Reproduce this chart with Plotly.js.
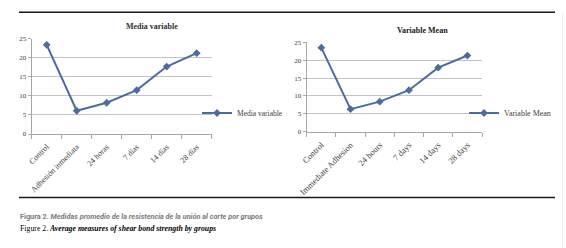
<!DOCTYPE html>
<html>
<head>
<meta charset="utf-8">
<script src="https://cdn.plot.ly/plotly-3.0.1.min.js"></script>
<style>
html,body{margin:0;padding:0;background:#fff;}
#chart{width:566px;height:248px;}
</style>
</head>
<body>
<div id="chart"></div>
<script>
// ---- data ----
var categoriesEs = ["Control", "Adhesión inmediata", "24 horas", "7 días", "14 días", "28 días"];
var categoriesEn = ["Control", "Immediate Adhesion", "24 hours", "7 days", "14 days", "28 days"];
var mediaVariable = [23.4, 6.1, 8.2, 11.5, 17.7, 21.2];
var variableMean = [23.5, 6.3, 8.4, 11.6, 17.9, 21.3];
var yTicks = [0, 5, 10, 15, 20, 25];
var titleEs = "Media variable";
var titleEn = "Variable Mean";
var captionEs = "Figura 2. <i>Medidas promedio de la resistencia de la unión al corte por grupos</i>";
var captionEn = "Figure 2. <b><i>Average measures of shear bond strength by groups</i></b>";

// ---- layout helpers (pixel -> paper) ----
var W = 566, H = 248;
function px(x) { return x / W; }
function py(y) { return 1 - y / H; }

var lineColor = "#4d6b9f";
var serif = "Liberation Serif, Times New Roman, serif";
var axisGray = "#a6a6a6";
var gridGray = "#c4c4c4";

var traces = [
  {
    x: categoriesEs, y: mediaVariable, name: titleEs,
    type: "scatter", mode: "lines+markers",
    xaxis: "x", yaxis: "y", legend: "legend",
    line: {color: lineColor, width: 2},
    marker: {symbol: "diamond", size: 6, color: lineColor}
  },
  {
    x: categoriesEn, y: variableMean, name: titleEn,
    type: "scatter", mode: "lines+markers",
    xaxis: "x2", yaxis: "y2", legend: "legend2",
    line: {color: lineColor, width: 2},
    marker: {symbol: "diamond", size: 6, color: lineColor}
  }
];

function xAxis(domain, anchor, fontSize) {
  return {
    domain: domain, anchor: anchor, type: "category",
    range: [-0.5, 5.5], showgrid: false, zeroline: false,
    showline: true, linecolor: axisGray, linewidth: 1,
    ticks: "outside", tickson: "boundaries", ticklen: 4, tickcolor: axisGray,
    ticklabelstandoff: 4,
    tickangle: -45, tickfont: {family: serif, size: fontSize, color: "#404040"},
    fixedrange: true
  };
}
function yAxis(domain, anchor) {
  return {
    domain: domain, anchor: anchor, range: [0, 25],
    tickvals: yTicks, ticktext: yTicks.map(String),
    showgrid: true, gridcolor: gridGray, gridwidth: 1, zeroline: false,
    showline: true, linecolor: axisGray, linewidth: 1,
    ticks: "outside", ticklen: 3, tickcolor: axisGray,
    tickfont: {family: serif, size: 7, color: "#404040"},
    fixedrange: true
  };
}

var layout = {
  width: W, height: H,
  margin: {l: 0, r: 0, t: 0, b: 0},
  paper_bgcolor: "#ffffff", plot_bgcolor: "rgba(0,0,0,0)",
  showlegend: true,
  xaxis: xAxis([px(31.7), px(211.7)], "y", 8),
  yaxis: yAxis([py(134), py(38.7)], "x"),
  xaxis2: xAxis([px(306.7), px(482)], "y2", 8.5),
  yaxis2: yAxis([py(131.7), py(42.3)], "x2"),
  legend: {
    x: px(197), y: py(113), xanchor: "left", yanchor: "middle",
    bgcolor: "rgba(0,0,0,0)", borderwidth: 0,
    font: {family: serif, size: 7.5, color: "#404040"}
  },
  legend2: {
    x: px(464), y: py(113), xanchor: "left", yanchor: "middle",
    bgcolor: "rgba(0,0,0,0)", borderwidth: 0,
    font: {family: serif, size: 8, color: "#404040"}
  },
  annotations: [
    {text: "<b>" + titleEs + "</b>", xref: "paper", yref: "paper",
     x: px(152), y: py(26.5), xanchor: "center", yanchor: "middle", showarrow: false,
     font: {family: serif, size: 8, color: "#303030"}},
    {text: "<b>" + titleEn + "</b>", xref: "paper", yref: "paper",
     x: px(422), y: py(30), xanchor: "center", yanchor: "middle", showarrow: false,
     font: {family: serif, size: 8, color: "#202020"}},
    {text: captionEs, xref: "paper", yref: "paper",
     x: px(18), y: py(216.5), xanchor: "left", yanchor: "middle", showarrow: false,
     font: {family: "Roboto, Liberation Sans, sans-serif", size: 7.3, color: "#7a7a7a", weight: "bold"}},
    {text: captionEn, xref: "paper", yref: "paper",
     x: px(18), y: py(228.5), xanchor: "left", yanchor: "middle", showarrow: false,
     font: {family: serif, size: 7.8, color: "#000000"}}
  ],
  shapes: [
    {type: "line", xref: "paper", yref: "paper", x0: px(19), x1: px(555), y0: py(12.3), y1: py(12.3),
     line: {color: "#1a1a1a", width: 1.5}},
    {type: "line", xref: "paper", yref: "paper", x0: px(19), x1: px(555), y0: py(197.5), y1: py(197.5),
     line: {color: "#1a1a1a", width: 1.5}},
    {type: "line", xref: "paper", yref: "paper", x0: px(562.5), x1: px(562.5), y0: py(14), y1: py(248),
     line: {color: "#ececec", width: 1}}
  ]
};

Plotly.newPlot("chart", traces, layout, {staticPlot: true, displayModeBar: false});
</script>
</body>
</html>
